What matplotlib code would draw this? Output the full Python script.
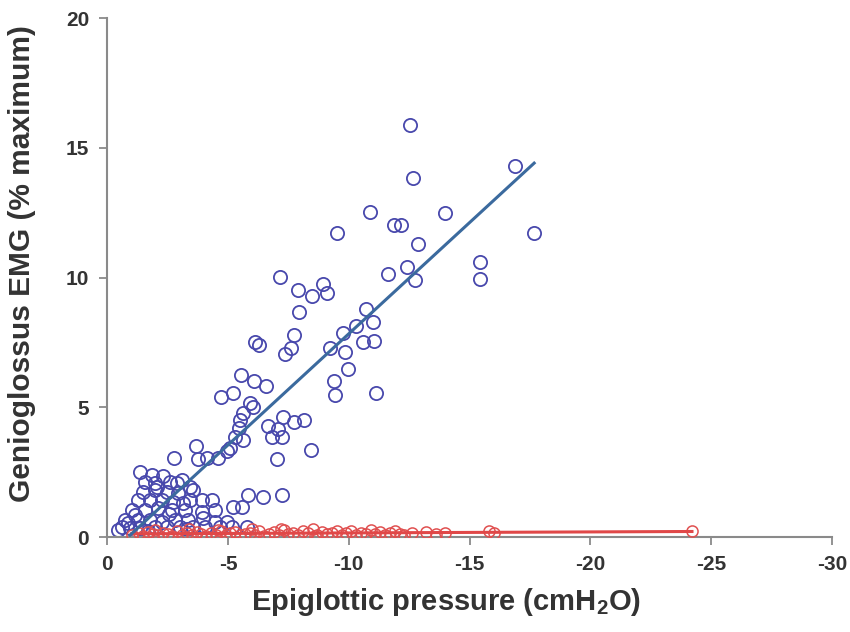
import numpy as np
import matplotlib
matplotlib.use("Agg")
import matplotlib.pyplot as plt

plt.rcParams['font.family'] = ['Liberation Sans', 'DejaVu Sans']
plt.rcParams['mathtext.fontset'] = 'custom'
plt.rcParams['mathtext.rm'] = 'Liberation Sans:bold'
plt.rcParams['mathtext.default'] = 'rm'

# genioglossus EMG vs epiglottic pressure, awake/active responders (blue)
blue_x = [-12.54, -16.88, -12.66, -10.88, -13.98, -11.87, -12.16, -9.52, -17.67, -12.87,
          -15.43, -12.41, -11.63, -15.43, -12.74, -7.16, -7.90, -8.48, -8.94, -9.10,
          -7.94, -10.72, -11.00, -10.30, -9.76, -10.60, -11.05, -9.23, -9.85, -9.97,
          -9.39, -9.43, -11.13, -6.10, -6.30, -7.74, -7.61, -7.36, -5.54, -6.08,
          -6.58, -4.72, -5.21, -5.92, -6.04, -5.63, -5.50, -5.46, -5.30, -5.63,
          -7.28, -7.74, -8.15, -6.66, -7.07, -6.83, -7.24, -8.44, -7.03, -3.68,
          -2.77, -3.77, -4.14, -4.59, -5.09, -4.96, -5.83, -6.45, -7.24, -5.21,
          -5.59, -1.37, -1.86, -2.32, -2.61, -1.57, -1.99, -2.90, -1.49, -1.99,
          -2.48, -2.94, -3.43, -3.56, -1.28, -1.78, -2.28, -2.73, -3.14, -3.43,
          -3.93, -4.34, -1.03, -1.57, -2.11, -2.69, -3.23, -3.93, -4.47, -0.74,
          -1.28, -1.78, -2.28, -2.81, -3.35, -3.97, -4.47, -4.96, -0.62, -0.46,
          -0.95, -1.37, -1.99, -2.48, -3.02, -3.56, -4.05, -4.68, -5.17, -5.79,
          -1.15, -2.05, -2.55, -3.10, -1.70, -0.85, -3.30]
blue_y = [15.88, 14.30, 13.83, 12.52, 12.49, 12.02, 12.02, 11.71, 11.71, 11.29,
          10.60, 10.40, 10.13, 9.94, 9.90, 10.02, 9.52, 9.29, 9.75, 9.40,
          8.67, 8.79, 8.28, 8.13, 7.86, 7.51, 7.55, 7.28, 7.13, 6.47,
          6.01, 5.47, 5.55, 7.52, 7.42, 7.78, 7.28, 7.05, 6.24, 6.01,
          5.82, 5.39, 5.55, 5.16, 5.01, 4.78, 4.51, 4.20, 3.85, 3.74,
          4.62, 4.43, 4.51, 4.28, 4.16, 3.85, 3.85, 3.35, 3.00, 3.51,
          3.04, 3.00, 3.04, 3.04, 3.43, 3.31, 1.62, 1.54, 1.62, 1.16,
          1.16, 2.50, 2.39, 2.35, 2.12, 2.12, 2.08, 2.08, 1.73, 1.81,
          1.73, 1.70, 1.93, 1.81, 1.43, 1.43, 1.43, 1.35, 1.31, 1.43,
          1.43, 1.43, 1.04, 1.04, 1.12, 1.04, 1.04, 0.96, 1.04, 0.66,
          0.66, 0.66, 0.58, 0.66, 0.66, 0.73, 0.58, 0.58, 0.39, 0.27,
          0.35, 0.35, 0.39, 0.39, 0.39, 0.39, 0.39, 0.39, 0.39, 0.39,
          0.85, 1.95, 0.90, 2.20, 0.25, 0.55, 0.30]

# sleep / non-responders (red)
red_x = [-1.05, -1.30, -1.50, -1.70, -1.90, -2.10, -2.30, -2.50, -2.70, -2.90,
         -3.10, -3.30, -3.50, -3.70, -3.90, -4.10, -4.30, -4.50, -4.70, -4.90,
         -5.10, -5.30, -5.50, -5.70, -5.90, -6.10, -6.30, -6.50, -6.70, -6.90,
         -7.10, -7.30, -7.50, -7.70, -7.90, -8.10, -8.30, -8.50, -8.70, -8.90,
         -9.10, -9.30, -9.50, -9.70, -9.90, -10.10, -10.30, -10.50, -10.70, -10.90,
         -11.10, -11.30, -11.50, -11.70, -11.90, -12.10, -12.30, -12.60, -13.20, -13.60,
         -14.00, -15.80, -16.00, -24.20, -2.00, -3.40, -4.60, -6.00, -7.20, -8.60]
red_y = [0.10, 0.15, 0.05, 0.20, 0.12, 0.08, 0.18, 0.14, 0.06, 0.22,
         0.10, 0.16, 0.08, 0.20, 0.12, 0.05, 0.18, 0.10, 0.24, 0.08,
         0.15, 0.20, 0.07, 0.12, 0.18, 0.10, 0.25, 0.06, 0.14, 0.20,
         0.10, 0.28, 0.12, 0.18, 0.08, 0.22, 0.15, 0.30, 0.10, 0.20,
         0.12, 0.18, 0.25, 0.08, 0.16, 0.22, 0.10, 0.18, 0.14, 0.26,
         0.12, 0.20, 0.08, 0.16, 0.22, 0.14, 0.10, 0.18, 0.20, 0.12,
         0.18, 0.22, 0.15, 0.25, 0.28, 0.30, 0.26, 0.30, 0.32, 0.05]

# regression line end points
blue_line_x = [-0.95, -17.67]
blue_line_y = [0.08, 14.41]
red_line_x = [-1.0, -24.2]
red_line_y = [0.13, 0.22]

x_ticks = [0, -5, -10, -15, -20, -25, -30]
y_ticks = [0, 5, 10, 15, 20]

fig = plt.figure(figsize=(8.5, 6.32), dpi=100)
ax = fig.add_axes([0.126, 0.150, 0.853, 0.8215])

ax.plot(red_x, red_y, 'o', mfc='none', mec='#e05050', mew=1.1, ms=8, zorder=3)
ax.plot(red_line_x, red_line_y, '-', color='#e04848', lw=2.2, zorder=4)
ax.plot(blue_x, blue_y, 'o', mfc='none', mec='#4848ac', mew=1.3, ms=9.5, zorder=2)
ax.plot(blue_line_x, blue_line_y, '-', color='#3b6a9e', lw=2.2, zorder=5)

ax.set_xlim(0, -30)
ax.set_ylim(0, 20)
ax.set_xticks(x_ticks)
ax.set_yticks(y_ticks)
ax.set_xticklabels([str(t) for t in x_ticks])
ax.set_yticklabels([str(t) for t in y_ticks])

for side in ['top', 'right']:
    ax.spines[side].set_visible(False)
for side in ['left', 'bottom']:
    ax.spines[side].set_color('#8a8a8a')
    ax.spines[side].set_linewidth(1.5)

ax.tick_params(direction='out', length=6, width=1.3, color='#8a8a8a',
               labelsize=15, labelcolor='#333333', pad=7)
for lab in ax.get_xticklabels() + ax.get_yticklabels():
    lab.set_fontweight('bold')

ax.set_xlabel('Epiglottic pressure (cmH$_2$O)', fontsize=21, fontweight='bold',
              color='#333333')
ax.set_ylabel('Genioglossus EMG (% maximum)', fontsize=21.5, fontweight='bold',
              color='#333333')
ax.xaxis.set_label_coords(0.468, -0.094)
ax.yaxis.set_label_coords(-0.098, 0.528)

fig.savefig('out.png', dpi=100)
